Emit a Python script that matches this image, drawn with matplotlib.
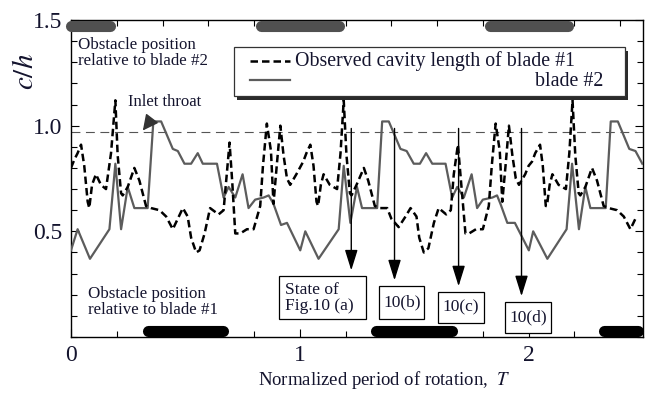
import matplotlib
matplotlib.use('Agg')
import matplotlib.pyplot as plt
from matplotlib.patches import Rectangle
from matplotlib.ticker import MultipleLocator

plt.rcParams['font.family'] = ['Liberation Serif', 'DejaVu Serif']
plt.rcParams['mathtext.fontset'] = 'stix'

# observed cavity length, blade #1 (T, c/h)
blade1 = [
    (0.000, 0.80), (0.015, 0.84), (0.029, 0.87), (0.044, 0.91), (0.058, 0.81), (0.073, 0.64),
    (0.080, 0.61), (0.092, 0.72), (0.109, 0.77), (0.131, 0.72), (0.153, 0.70), (0.175, 0.87),
    (0.194, 1.12), (0.204, 0.86), (0.219, 0.68), (0.226, 0.67), (0.248, 0.71), (0.277, 0.80),
    (0.299, 0.74), (0.328, 0.62), (0.350, 0.61), (0.387, 0.60), (0.416, 0.57), (0.445, 0.51),
    (0.467, 0.56), (0.489, 0.61), (0.510, 0.57), (0.525, 0.47), (0.547, 0.40), (0.562, 0.41),
    (0.584, 0.49), (0.608, 0.61), (0.645, 0.58), (0.667, 0.60), (0.681, 0.77), (0.693, 0.92),
    (0.705, 0.73), (0.718, 0.49), (0.740, 0.49), (0.769, 0.51), (0.798, 0.51), (0.827, 0.62),
    (0.839, 0.81), (0.856, 1.01), (0.874, 0.88), (0.885, 0.63), (0.900, 0.82), (0.915, 1.00),
    (0.929, 0.86), (0.944, 0.75), (0.958, 0.72), (0.985, 0.77),
    (1.000, 0.80), (1.015, 0.83), (1.029, 0.87), (1.046, 0.91), (1.060, 0.81), (1.073, 0.64),
    (1.080, 0.62), (1.092, 0.72), (1.104, 0.77), (1.131, 0.72), (1.163, 0.70), (1.178, 0.87),
    (1.192, 1.12), (1.204, 0.86), (1.219, 0.68), (1.226, 0.67), (1.248, 0.72), (1.280, 0.80),
    (1.299, 0.74), (1.328, 0.62), (1.350, 0.61), (1.382, 0.61), (1.400, 0.56), (1.432, 0.52),
    (1.462, 0.57), (1.484, 0.61), (1.510, 0.57), (1.522, 0.47), (1.542, 0.40), (1.562, 0.42),
    (1.586, 0.54), (1.607, 0.61), (1.640, 0.58), (1.660, 0.60), (1.673, 0.77), (1.691, 0.91),
    (1.705, 0.73), (1.724, 0.49), (1.740, 0.49), (1.770, 0.51), (1.800, 0.51), (1.826, 0.62),
    (1.839, 0.81), (1.856, 1.01), (1.874, 0.88), (1.885, 0.64), (1.900, 0.82), (1.914, 1.00),
    (1.929, 0.86), (1.944, 0.75), (1.958, 0.72), (1.985, 0.77),
    (2.000, 0.81), (2.015, 0.83), (2.029, 0.87), (2.050, 0.91), (2.062, 0.81), (2.075, 0.62),
    (2.080, 0.62), (2.092, 0.72), (2.104, 0.77), (2.131, 0.72), (2.163, 0.70), (2.178, 0.87),
    (2.192, 1.12), (2.204, 0.86), (2.219, 0.68), (2.226, 0.67), (2.248, 0.71), (2.277, 0.80),
    (2.299, 0.74), (2.328, 0.62), (2.350, 0.61), (2.387, 0.60), (2.416, 0.57), (2.445, 0.51),
    (2.467, 0.56),
]

# observed cavity length, blade #2 (T, c/h)
blade2 = [
    (0.000, 0.41), (0.029, 0.51), (0.083, 0.37), (0.168, 0.51), (0.194, 0.82), (0.219, 0.51),
    (0.248, 0.71), (0.277, 0.61), (0.335, 0.61), (0.360, 1.02), (0.394, 1.02), (0.445, 0.89),
    (0.467, 0.88), (0.496, 0.82), (0.525, 0.82), (0.554, 0.87), (0.576, 0.82), (0.638, 0.82),
    (0.667, 0.66), (0.689, 0.71), (0.718, 0.66), (0.750, 0.77), (0.776, 0.61), (0.805, 0.65),
    (0.842, 0.66), (0.864, 0.67), (0.885, 0.63), (0.918, 0.53), (0.944, 0.54),
    (1.002, 0.41), (1.024, 0.50), (1.082, 0.37), (1.170, 0.51), (1.192, 0.81), (1.221, 0.54),
    (1.250, 0.71), (1.272, 0.61), (1.338, 0.61), (1.360, 1.02), (1.389, 1.02), (1.440, 0.89),
    (1.467, 0.88), (1.498, 0.82), (1.525, 0.82), (1.552, 0.87), (1.579, 0.82), (1.637, 0.82),
    (1.666, 0.66), (1.688, 0.71), (1.717, 0.66), (1.751, 0.77), (1.775, 0.61), (1.800, 0.65),
    (1.842, 0.66), (1.862, 0.67), (1.877, 0.63), (1.907, 0.54), (1.940, 0.54),
    (2.001, 0.41), (2.020, 0.50), (2.082, 0.37), (2.166, 0.51), (2.190, 0.82), (2.220, 0.51),
    (2.248, 0.71), (2.270, 0.61), (2.337, 0.61), (2.359, 1.02), (2.390, 1.02), (2.440, 0.89),
    (2.467, 0.88), (2.497, 0.82),
]

inlet_throat = 0.97
obstacle_blade2 = [(0.0, 0.17), (0.83, 1.17), (1.83, 2.17)]
obstacle_blade1 = [(0.335, 0.663), (1.333, 1.665), (2.33, 2.48)]
state_T = [1.225, 1.414, 1.694, 1.969]
state_labels = ['State of\nFig.10 (a)', '10(b)', '10(c)', '10(d)']

txt = '#14142e'

fig = plt.figure(figsize=(6.56, 3.94), dpi=100)
ax = fig.add_axes([0.1082, 0.1447, 0.872, 0.8045])

t1, v1 = zip(*blade1)
t2, v2 = zip(*blade2)
ax.plot(t2, v2, color='#5c5c5c', lw=1.6, zorder=3)
ax.plot(t1, v1, color='black', lw=1.8, ls=(0, (3, 1.6)), zorder=4)
ax.axhline(inlet_throat, color='#555555', lw=0.8, ls=(0, (8, 5)), zorder=2)

for a, b in obstacle_blade2:
    ax.plot([a, b], [1.472, 1.472], color='#505050', lw=8, solid_capstyle='round',
            clip_on=False, zorder=5)
for a, b in obstacle_blade1:
    ax.plot([a, b], [0.028, 0.028], color='black', lw=8, solid_capstyle='round',
            clip_on=False, zorder=5)

ax.set_xlim(0, 2.5)
ax.set_ylim(0, 1.5)
ax.set_xticks([0, 1, 2])
ax.set_yticks([0.5, 1.0, 1.5])
ax.set_yticklabels(['0.5', '1.0', '1.5'])
ax.xaxis.set_minor_locator(MultipleLocator(0.2))
ax.yaxis.set_minor_locator(MultipleLocator(0.1))
ax.tick_params(which='both', direction='in', top=True, right=True, width=0.8)
ax.tick_params(which='major', length=6, labelsize=17, pad=6, labelcolor=txt)
ax.tick_params(which='minor', length=4)
for s in ax.spines.values():
    s.set_linewidth(1.0)

# state boxes and arrows
boxes = [(0.910, 1.291, 0.085, 0.287), (1.348, 1.545, 0.085, 0.240),
         (1.602, 1.803, 0.066, 0.212), (1.899, 2.096, 0.019, 0.165)]
for T, lab, (x0, x1, y0, y1) in zip(state_T, state_labels, boxes):
    ax.annotate('', xy=(T, y1 + 0.015), xytext=(T, 1.0),
                arrowprops=dict(arrowstyle='-|>,head_length=0.9,head_width=0.28',
                                color='black', lw=1.0, mutation_scale=14), zorder=6)
    ax.add_patch(Rectangle((x0, y0), x1 - x0, y1 - y0, facecolor='white',
                           edgecolor='black', lw=0.9, zorder=7))
    if '\n' in lab:
        ax.text(x0 + 0.025, (y0 + y1) / 2, lab, fontsize=12.5, color=txt, ha='left',
                va='center', linespacing=1.0, zorder=8)
    else:
        ax.text((x0 + x1) / 2, (y0 + y1) / 2, lab, fontsize=12.5, color=txt,
                ha='center', va='center', zorder=8)

# legend drawn by hand (shadowed box)
lx0, lx1, ly0, ly1 = 0.285, 0.968, 0.760, 0.915
ax.add_patch(Rectangle((lx0 + 0.006, ly0 - 0.012), lx1 - lx0, ly1 - ly0,
                       transform=ax.transAxes, facecolor='#2b2b2b', edgecolor='none', zorder=8))
ax.add_patch(Rectangle((lx0, ly0), lx1 - lx0, ly1 - ly0, transform=ax.transAxes,
                       facecolor='white', edgecolor='#333333', lw=0.9, zorder=9))
ax.plot([0.313, 0.383], [0.870, 0.870], transform=ax.transAxes, color='black',
        lw=1.8, ls=(0, (3, 1.6)), zorder=10)
ax.plot([0.313, 0.383], [0.810, 0.810], transform=ax.transAxes, color='#5c5c5c',
        lw=1.6, zorder=10)
ax.text(0.391, 0.872, 'Observed cavity length of blade #1', transform=ax.transAxes,
        fontsize=14.3, color=txt, va='center', ha='left', zorder=10)
ax.text(0.930, 0.805, 'blade #2', transform=ax.transAxes, fontsize=14.3, color=txt,
        va='center', ha='right', zorder=10)

ax.text(0.031, 1.345, 'Obstacle position\nrelative to blade #2', fontsize=12.2,
        color=txt, va='center', ha='left', linespacing=1.0)
ax.text(0.074, 0.167, 'Obstacle position\nrelative to blade #1', fontsize=12.2,
        color=txt, va='center', ha='left', linespacing=1.0)
ax.annotate('Inlet throat', xy=(0.314, 0.977), xytext=(0.41, 1.113), fontsize=12,
            color=txt, ha='center', va='center',
            arrowprops=dict(arrowstyle='-|>,head_length=0.8,head_width=0.4',
                            color='#333333', lw=1.0, mutation_scale=12,
                            shrinkA=6, shrinkB=0))

fig.text(26 / 656, 1 - 72 / 394, '$c/h$', fontsize=21, rotation=90,
         ha='center', va='center', color=txt)
fig.text(384 / 656, 1 - 380 / 394, 'Normalized period of rotation,  $T$',
         fontsize=13.5, ha='center', va='center', color=txt)

fig.savefig('out.png', dpi=100)
